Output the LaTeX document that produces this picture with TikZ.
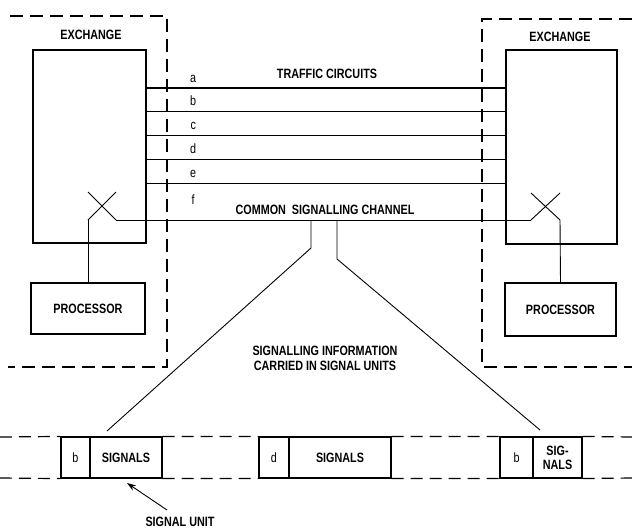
\documentclass[tikz,border=0pt]{standalone}
\usepackage{fontspec}
\setmainfont{Liberation Sans}[FakeStretch=0.8]
\usetikzlibrary{arrows.meta}
\begin{document}
\begin{tikzpicture}[x=1pt,y=-1pt,font=\fontsize{13.5}{15}\selectfont\bfseries,
  box/.style={draw,line width=1.1pt,inner sep=0pt},
  small/.style={font=\fontsize{13.5}{15}\selectfont},
  encl/.style={line width=2.4pt,dash pattern=on 13pt off 7pt},
  row/.style={line width=1.2pt,dash pattern=on 12pt off 7pt},
  wire/.style={line width=0.9pt}]
\useasboundingbox (0,0) rectangle (632,528);
\draw[encl] (10,16) -- (167,16) -- (167,367) -- (8,367);
\draw[encl] (632,19) -- (482,19) -- (482,367) -- (632,367);
\node[box,minimum width=113pt,minimum height=193pt] (exL) at (89.5,146.5) {};
\node[box,minimum width=111pt,minimum height=194pt] (exR) at (561.5,147) {};
\node (exLlab) at (91,35) {EXCHANGE};
\node (exRlab) at (560,37) {EXCHANGE};
\node[box,minimum width=114pt,minimum height=51pt] (procL) at (88,308.5) {PROCESSOR};
\node[box,minimum width=111pt,minimum height=53pt] (procR) at (560.5,309.5) {PROCESSOR};
\foreach \y/\l in {88/a,111/b,135/c,159/d,183/e}
  \draw[wire] (exL.east |- 0,\y) -- (exR.west |- 0,\y) node[pos=0.13,above=1.5pt,small] {\l};
\draw[line width=1.5pt] (exL.east |- 0,88) -- (exR.west |- 0,88);
\node[small] (flab) at (193,200) {f};
\node (traffic) at (327,74) {TRAFFIC CIRCUITS};
\node (common) at (325,210) {COMMON\ \ SIGNALLING CHANNEL};
\coordinate (xlA) at (88,192); \coordinate (xlB) at (116,220);
\coordinate (xlC) at (116,192); \coordinate (xlD) at (88,220);
\coordinate (xrA) at (531,193); \coordinate (xrB) at (560,220);
\coordinate (xrC) at (560,193); \coordinate (xrD) at (531,220);
\draw[wire] (xlA) -- (xlB) (xlC) -- (xlD);
\draw[wire] (xrA) -- (xrB) (xrC) -- (xrD);
\draw[wire] (xlB) -- (xrD);
\draw[wire] (xlD) -- (procL.north);
\draw[wire] (xrB) -- (procR.north);
\coordinate (tapL) at (311,220); \coordinate (bendL) at (311,248);
\coordinate (tapR) at (337,220); \coordinate (bendR) at (337,259);
\coordinate (tipL) at (107,431); \coordinate (tipR) at (540,430);
\draw[wire] (tapL) -- (bendL) -- (tipL);
\draw[wire] (tapR) -- (bendR) -- (tipR);
\node[align=center] (info) at (325,358) {SIGNALLING INFORMATION\\CARRIED IN SIGNAL UNITS};
\node[box,minimum width=29pt,minimum height=41pt,small] (u1b) at (75.5,457.5) {b};
\node[box,minimum width=72pt,minimum height=41pt] (u1s) at (126,457.5) {SIGNALS};
\node[box,minimum width=30pt,minimum height=41pt,small] (u2d) at (274,457.5) {d};
\node[box,minimum width=102pt,minimum height=41pt] (u2s) at (340,457.5) {SIGNALS};
\node[box,minimum width=33pt,minimum height=41pt,small] (u3b) at (516.5,457.5) {b};
\node[box,minimum width=49pt,minimum height=41pt,align=center,font=\fontsize{13.5}{14}\selectfont\bfseries] (u3s) at (557.5,457.5) {SIG-\\NALS};
\coordinate (rowTL) at (0,437); \coordinate (rowTR) at (632,437);
\coordinate (rowBL) at (0,478); \coordinate (rowBR) at (632,478);
\draw[row] (rowTL) -- (u1b.north west) (u1s.north east) -- (u2d.north west) (u2s.north east) -- (u3b.north west) (u3s.north east) -- (rowTR);
\draw[row] (rowBL) -- (u1b.south west) (u1s.south east) -- (u2d.south west) (u2s.south east) -- (u3b.south west) (u3s.south east) -- (rowBR);
\node (sulab) at (180,522) {SIGNAL UNIT};
\coordinate (arrS) at (167,510);
\coordinate (arrE) at (127,483);
\draw[wire,-{Stealth[length=9pt,width=6pt]}] (arrS) -- (arrE);
\end{tikzpicture}
\end{document}
